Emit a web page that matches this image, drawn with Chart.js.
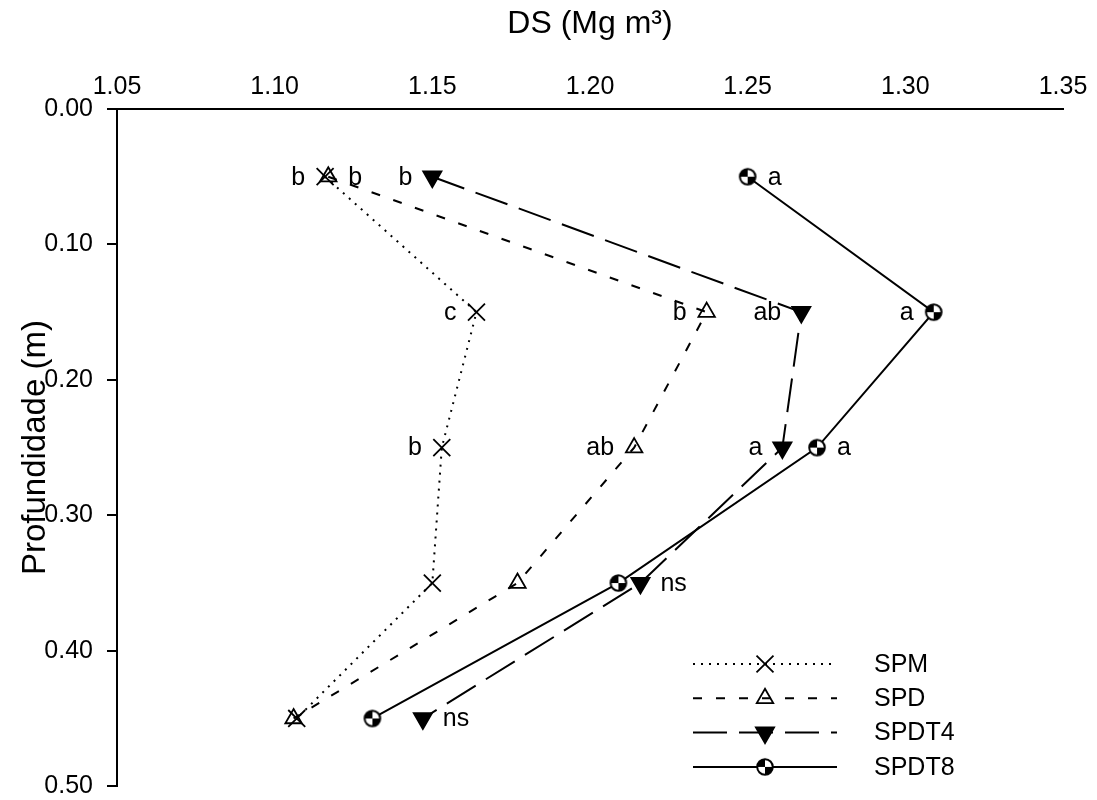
<!DOCTYPE html>
<html><head><meta charset="utf-8">
<script src="https://cdn.jsdelivr.net/npm/chart.js@4.4.0/dist/chart.umd.min.js"></script>
<style>html,body{margin:0;padding:0;background:#fff}#wrap{width:1097px;height:800px}</style>
</head><body><div id="wrap"><canvas id="c" width="1097" height="800"></canvas></div>
<script>
// ---- data ----
const depths = [0.05, 0.15, 0.25, 0.35, 0.45];
const seriesNames = ['SPM', 'SPD', 'SPDT4', 'SPDT8'];
const spm   = [1.116, 1.164, 1.153, 1.150, 1.107];
const spd   = [1.117, 1.237, 1.214, 1.177, 1.106];
const spdt4 = [1.150, 1.267, 1.261, 1.216, 1.147];
const spdt8 = [1.250, 1.309, 1.272, 1.209, 1.131];
const spmLetters   = ['b', 'c', 'b', '', ''];
const spdLetters   = ['b', 'b', 'ab', '', ''];
const spdt4Letters = ['b', 'ab', 'a', 'ns', 'ns'];
const spdt8Letters = ['a', 'a', 'a', '', ''];
const spmSide   = ['L', 'L', 'L', '', ''];
const spdSide   = ['R', 'L', 'L', '', ''];
const spdt4Side = ['L', 'L', 'L', 'R', 'R'];
const spdt8Side = ['R', 'L', 'R', '', ''];
const xTicks = [1.05, 1.10, 1.15, 1.20, 1.25, 1.30, 1.35];
const yTicks = [0.00, 0.10, 0.20, 0.30, 0.40, 0.50];
const xTitle = 'DS (Mg m³)';
const yTitle = 'Profundidade (m)';

const FONT = '"Liberation Sans", Arial, sans-serif';

function quarterCircle() {
  const c = document.createElement('canvas');
  c.width = 20; c.height = 20;
  const g = c.getContext('2d');
  const cx = 10, cy = 10, r = 7.8;
  g.beginPath(); g.arc(cx, cy, r, 0, Math.PI * 2); g.fillStyle = '#fff'; g.fill();
  g.fillStyle = '#000';
  g.beginPath(); g.moveTo(cx, cy); g.arc(cx, cy, r, Math.PI, Math.PI * 1.5); g.closePath(); g.fill();
  g.beginPath(); g.moveTo(cx, cy); g.arc(cx, cy, r, 0, Math.PI * 0.5); g.closePath(); g.fill();
  g.beginPath(); g.arc(cx, cy, r, 0, Math.PI * 2); g.lineWidth = 2; g.strokeStyle = '#000'; g.stroke();
  return c;
}
const circImg = quarterCircle();

const styles = [
  { dash: [2, 6], width: 2, pointStyle: 'crossRot', radius: 12, rot: 0, bg: 'rgba(0,0,0,0)' },
  { dash: [9, 14], width: 2, pointStyle: 'triangle', radius: 9.5, rot: 0, bg: 'rgba(0,0,0,0)' },
  { dash: [34, 12], width: 2, pointStyle: 'triangle', radius: 10.5, rot: 180, bg: '#000' },
  { dash: [], width: 2, pointStyle: circImg, radius: 8, rot: 0, bg: '#000' }
];
const seriesValues = [spm, spd, spdt4, spdt8];
const seriesLetters = [spmLetters, spdLetters, spdt4Letters, spdt8Letters];
const seriesSides = [spmSide, spdSide, spdt4Side, spdt8Side];

const datasets = seriesNames.map((name, k) => ({
  label: name,
  data: seriesValues[k].map((v, i) => ({ x: v, y: depths[i] })),
  showLine: true,
  borderColor: '#000',
  borderWidth: styles[k].width,
  borderDash: styles[k].dash,
  borderCapStyle: 'butt',
  pointStyle: styles[k].pointStyle,
  pointRadius: styles[k].radius,
  pointHoverRadius: styles[k].radius,
  pointRotation: styles[k].rot,
  pointBackgroundColor: styles[k].bg,
  pointBorderColor: '#000',
  pointBorderWidth: 1.8,
  clip: false,
  tension: 0
}));

const GAP = 20;
const letterPlugin = {
  id: 'letters',
  afterDatasetsDraw(chart) {
    const ctx = chart.ctx, xs = chart.scales.x, ys = chart.scales.y;
    ctx.save();
    ctx.font = '25px ' + FONT;
    ctx.fillStyle = '#000';
    ctx.textBaseline = 'middle';
    seriesValues.forEach((vals, k) => {
      vals.forEach((v, i) => {
        const t = seriesLetters[k][i];
        if (!t) return;
        const px = xs.getPixelForValue(v), py = ys.getPixelForValue(depths[i]);
        if (seriesSides[k][i] === 'L') { ctx.textAlign = 'right'; ctx.fillText(t, px - GAP, py + 1); }
        else { ctx.textAlign = 'left'; ctx.fillText(t, px + GAP, py + 1); }
      });
    });
    ctx.restore();
  }
};

function drawMarker(ctx, k, x, y) {
  ctx.save();
  ctx.setLineDash([]);
  ctx.strokeStyle = '#000'; ctx.lineWidth = 1.8; ctx.fillStyle = '#000';
  if (k === 0) {
    const h = 12 * Math.cos(Math.PI / 4);
    ctx.beginPath();
    ctx.moveTo(x - h, y - h); ctx.lineTo(x + h, y + h);
    ctx.moveTo(x - h, y + h); ctx.lineTo(x + h, y - h);
    ctx.stroke();
  } else if (k === 1 || k === 2) {
    const r = styles[k].radius;
    const base = k === 1 ? 0 : Math.PI;
    ctx.beginPath();
    for (let j = 0; j < 3; j++) {
      const a = base + j * 2 * Math.PI / 3;
      const px = x + Math.sin(a) * r, py = y - Math.cos(a) * r;
      if (j === 0) ctx.moveTo(px, py); else ctx.lineTo(px, py);
    }
    ctx.closePath();
    if (k === 2) ctx.fill();
    ctx.stroke();
  } else {
    ctx.drawImage(circImg, x - circImg.width / 2, y - circImg.height / 2);
  }
  ctx.restore();
}

const legendPlugin = {
  id: 'customLegend',
  afterDraw(chart) {
    const ctx = chart.ctx;
    const x0 = 693, x1 = 837, xm = 765, xt = 874, y0 = 664, dy = 34.3;
    ctx.save();
    seriesNames.forEach((name, k) => {
      const y = y0 + k * dy;
      ctx.strokeStyle = '#000';
      ctx.lineWidth = styles[k].width;
      ctx.setLineDash(styles[k].dash);
      ctx.lineCap = 'butt';
      ctx.beginPath(); ctx.moveTo(x0, y); ctx.lineTo(x1, y); ctx.stroke();
      drawMarker(ctx, k, xm, y);
      ctx.setLineDash([]);
      ctx.fillStyle = '#000';
      ctx.font = '25px ' + FONT;
      ctx.textAlign = 'left';
      ctx.textBaseline = 'middle';
      ctx.fillText(name, xt, y + 1);
    });
    ctx.restore();
  }
};

new Chart(document.getElementById('c'), {
  type: 'scatter',
  data: { datasets },
  plugins: [letterPlugin, legendPlugin],
  options: {
    responsive: false,
    animation: false,
    devicePixelRatio: 1,
    layout: { padding: { left: 0, top: 0, right: 34, bottom: 11 } },
    plugins: { legend: { display: false }, tooltip: { enabled: false } },
    scales: {
      x: {
        type: 'linear',
        position: 'top',
        min: xTicks[0], max: xTicks[xTicks.length - 1],
        afterBuildTicks: s => { s.ticks = xTicks.map(v => ({ value: v })); },
        afterFit: s => { s.height = 109; s.paddingLeft = 0; s.paddingRight = 0; },
        grid: { display: false, drawTicks: false },
        border: { display: true, color: '#000', width: 2 },
        ticks: { color: '#000', font: { family: FONT, size: 25 }, padding: 7, maxRotation: 0,
                 callback: v => Number(v).toFixed(2) },
        title: { display: true, text: xTitle, color: '#000', font: { family: FONT, size: 32 }, padding: { top: 5, bottom: 0 } }
      },
      y: {
        type: 'linear',
        position: 'left',
        reverse: true,
        min: yTicks[0], max: yTicks[yTicks.length - 1],
        afterBuildTicks: s => { s.ticks = yTicks.map(v => ({ value: v })); },
        afterFit: s => { s.width = 117; s.paddingTop = 0; s.paddingBottom = 0; },
        grid: { display: true, drawOnChartArea: false, drawTicks: true, tickLength: 10, color: '#000', lineWidth: 2 },
        border: { display: true, color: '#000', width: 2 },
        ticks: { color: '#000', font: { family: FONT, size: 25 }, padding: 14,
                 callback: v => Number(v).toFixed(2) },
        title: { display: true, text: yTitle, color: '#000', font: { family: FONT, size: 33 }, padding: { top: 16, bottom: 0 } }
      }
    }
  }
});
</script>
</body></html>
